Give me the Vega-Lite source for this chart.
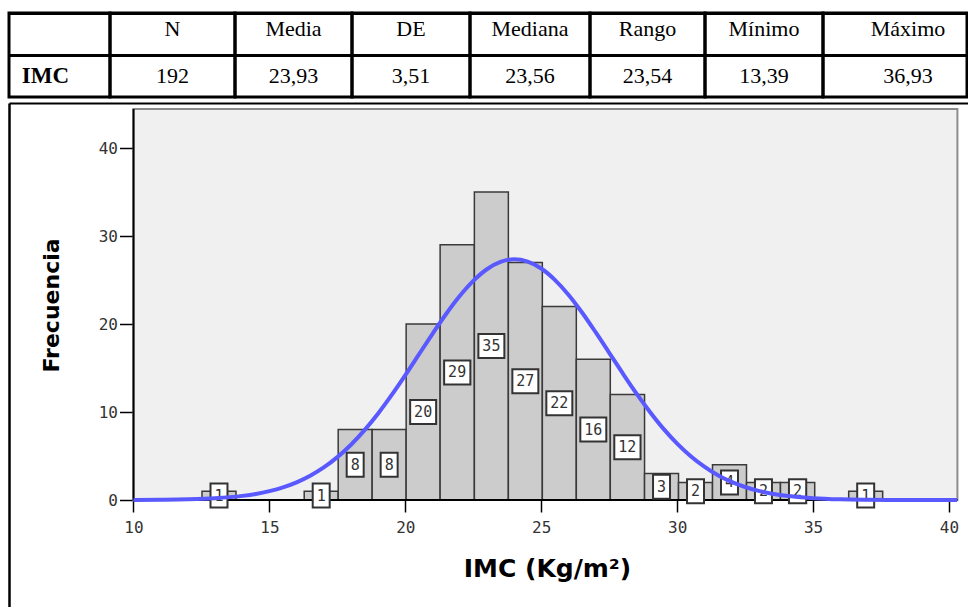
{
  "$schema": "https://vega.github.io/schema/vega-lite/v6.json",
  "background": "white",
  "padding": {"left": 7, "top": 11, "right": 0, "bottom": 0},
  "spacing": 4,
  "datasets": {
    "stats": [
      {"header": "", "value": "IMC"},
      {"header": "N", "value": "192"},
      {"header": "Media", "value": "23,93"},
      {"header": "DE", "value": "3,51"},
      {"header": "Mediana", "value": "23,56"},
      {"header": "Rango", "value": "23,54"},
      {"header": "Mínimo", "value": "13,39"},
      {"header": "Máximo", "value": "36,93"}
    ],
    "bins": [
      {"x0": 12.52, "x1": 13.77, "count": 1},
      {"x0": 16.28, "x1": 17.53, "count": 1},
      {"x0": 17.53, "x1": 18.78, "count": 8},
      {"x0": 18.78, "x1": 20.03, "count": 8},
      {"x0": 20.03, "x1": 21.28, "count": 20},
      {"x0": 21.28, "x1": 22.54, "count": 29},
      {"x0": 22.54, "x1": 23.79, "count": 35},
      {"x0": 23.79, "x1": 25.04, "count": 27},
      {"x0": 25.04, "x1": 26.29, "count": 22},
      {"x0": 26.29, "x1": 27.54, "count": 16},
      {"x0": 27.54, "x1": 28.80, "count": 12},
      {"x0": 28.80, "x1": 30.05, "count": 3},
      {"x0": 30.05, "x1": 31.30, "count": 2},
      {"x0": 31.30, "x1": 32.55, "count": 4},
      {"x0": 32.55, "x1": 33.80, "count": 2},
      {"x0": 33.80, "x1": 35.06, "count": 2},
      {"x0": 36.31, "x1": 37.56, "count": 1}
    ],
    "curve": [
      {"x": 10, "y": 0.01}, {"x": 11, "y": 0.03}, {"x": 12, "y": 0.08}, {"x": 13, "y": 0.2},
      {"x": 14, "y": 0.47}, {"x": 14.5, "y": 0.69}, {"x": 15, "y": 1.01}, {"x": 15.5, "y": 1.44},
      {"x": 16, "y": 2.01}, {"x": 16.5, "y": 2.76}, {"x": 17, "y": 3.7}, {"x": 17.5, "y": 4.87},
      {"x": 18, "y": 6.28}, {"x": 18.5, "y": 7.94}, {"x": 19, "y": 9.83}, {"x": 19.5, "y": 11.94},
      {"x": 20, "y": 14.19}, {"x": 20.5, "y": 16.54}, {"x": 21, "y": 18.89}, {"x": 21.5, "y": 21.14},
      {"x": 22, "y": 23.18}, {"x": 22.5, "y": 24.9}, {"x": 23, "y": 26.22}, {"x": 23.5, "y": 27.05},
      {"x": 24, "y": 27.35}, {"x": 24.5, "y": 27.09}, {"x": 25, "y": 26.31}, {"x": 25.5, "y": 25.02},
      {"x": 26, "y": 23.33}, {"x": 26.5, "y": 21.31}, {"x": 27, "y": 19.07}, {"x": 27.5, "y": 16.73},
      {"x": 28, "y": 14.38}, {"x": 28.5, "y": 12.11}, {"x": 29, "y": 10.0}, {"x": 29.5, "y": 8.08},
      {"x": 30, "y": 6.41}, {"x": 30.5, "y": 4.98}, {"x": 31, "y": 3.79}, {"x": 31.5, "y": 2.82},
      {"x": 32, "y": 2.06}, {"x": 32.5, "y": 1.48}, {"x": 33, "y": 1.04}, {"x": 33.5, "y": 0.71},
      {"x": 34, "y": 0.48}, {"x": 35, "y": 0.21}, {"x": 36, "y": 0.08}, {"x": 37, "y": 0.03},
      {"x": 38, "y": 0.01}, {"x": 39, "y": 0}, {"x": 40.3, "y": 0}
    ]
  },
  "vconcat": [
    {
      "spacing": 0,
      "bounds": "flush",
      "resolve": {"scale": {"y": "independent"}, "axis": {"y": "independent"}},
      "hconcat": [
        {
          "width": 101, "height": 84,
          "view": {"stroke": "black", "strokeWidth": 3},
          "data": {"name": "stats"},
          "transform": [{"filter": "datum.value === 'IMC'"}],
          "mark": {"type": "text", "font": "Liberation Serif", "fontSize": 23, "fontWeight": "bold", "color": "black", "dx": -14},
          "encoding": {
            "y": {"datum": "v", "type": "nominal", "scale": {"type": "band", "domain": ["h", "v"], "paddingInner": 0, "paddingOuter": 0},
                  "axis": {"title": null, "labels": false, "ticks": false, "domain": false, "grid": true, "gridColor": "black", "gridWidth": 3, "bandPosition": 0}},
            "text": {"field": "value"}
          }
        },
        {
          "width": 125, "height": 84,
          "view": {"stroke": "black", "strokeWidth": 3},
          "data": {"name": "stats"},
          "transform": [{"filter": "datum.header === 'N'"}],
          "layer": [
            {"mark": {"type": "text", "font": "Liberation Serif", "fontSize": 22, "color": "black", "dy": -5},
             "encoding": {"y": {"datum": "h", "type": "nominal", "scale": {"type": "band", "domain": ["h", "v"], "paddingInner": 0, "paddingOuter": 0},
                  "axis": {"title": null, "labels": false, "ticks": false, "domain": false, "grid": true, "gridColor": "black", "gridWidth": 3, "bandPosition": 0}},
                  "text": {"field": "header"}}},
            {"mark": {"type": "text", "font": "Liberation Serif", "fontSize": 22, "color": "black"},
             "encoding": {"y": {"datum": "v", "type": "nominal"}, "text": {"field": "value"}}}
          ]
        },
        {
          "width": 117, "height": 84,
          "view": {"stroke": "black", "strokeWidth": 3},
          "data": {"name": "stats"},
          "transform": [{"filter": "datum.header === 'Media'"}],
          "layer": [
            {"mark": {"type": "text", "font": "Liberation Serif", "fontSize": 22, "color": "black", "dy": -5},
             "encoding": {"y": {"datum": "h", "type": "nominal", "scale": {"type": "band", "domain": ["h", "v"], "paddingInner": 0, "paddingOuter": 0},
                  "axis": {"title": null, "labels": false, "ticks": false, "domain": false, "grid": true, "gridColor": "black", "gridWidth": 3, "bandPosition": 0}},
                  "text": {"field": "header"}}},
            {"mark": {"type": "text", "font": "Liberation Serif", "fontSize": 22, "color": "black"},
             "encoding": {"y": {"datum": "v", "type": "nominal"}, "text": {"field": "value"}}}
          ]
        },
        {
          "width": 118, "height": 84,
          "view": {"stroke": "black", "strokeWidth": 3},
          "data": {"name": "stats"},
          "transform": [{"filter": "datum.header === 'DE'"}],
          "layer": [
            {"mark": {"type": "text", "font": "Liberation Serif", "fontSize": 22, "color": "black", "dy": -5},
             "encoding": {"y": {"datum": "h", "type": "nominal", "scale": {"type": "band", "domain": ["h", "v"], "paddingInner": 0, "paddingOuter": 0},
                  "axis": {"title": null, "labels": false, "ticks": false, "domain": false, "grid": true, "gridColor": "black", "gridWidth": 3, "bandPosition": 0}},
                  "text": {"field": "header"}}},
            {"mark": {"type": "text", "font": "Liberation Serif", "fontSize": 22, "color": "black"},
             "encoding": {"y": {"datum": "v", "type": "nominal"}, "text": {"field": "value"}}}
          ]
        },
        {
          "width": 120, "height": 84,
          "view": {"stroke": "black", "strokeWidth": 3},
          "data": {"name": "stats"},
          "transform": [{"filter": "datum.header === 'Mediana'"}],
          "layer": [
            {"mark": {"type": "text", "font": "Liberation Serif", "fontSize": 22, "color": "black", "dy": -5},
             "encoding": {"y": {"datum": "h", "type": "nominal", "scale": {"type": "band", "domain": ["h", "v"], "paddingInner": 0, "paddingOuter": 0},
                  "axis": {"title": null, "labels": false, "ticks": false, "domain": false, "grid": true, "gridColor": "black", "gridWidth": 3, "bandPosition": 0}},
                  "text": {"field": "header"}}},
            {"mark": {"type": "text", "font": "Liberation Serif", "fontSize": 22, "color": "black"},
             "encoding": {"y": {"datum": "v", "type": "nominal"}, "text": {"field": "value"}}}
          ]
        },
        {
          "width": 115, "height": 84,
          "view": {"stroke": "black", "strokeWidth": 3},
          "data": {"name": "stats"},
          "transform": [{"filter": "datum.header === 'Rango'"}],
          "layer": [
            {"mark": {"type": "text", "font": "Liberation Serif", "fontSize": 22, "color": "black", "dy": -5},
             "encoding": {"y": {"datum": "h", "type": "nominal", "scale": {"type": "band", "domain": ["h", "v"], "paddingInner": 0, "paddingOuter": 0},
                  "axis": {"title": null, "labels": false, "ticks": false, "domain": false, "grid": true, "gridColor": "black", "gridWidth": 3, "bandPosition": 0}},
                  "text": {"field": "header"}}},
            {"mark": {"type": "text", "font": "Liberation Serif", "fontSize": 22, "color": "black"},
             "encoding": {"y": {"datum": "v", "type": "nominal"}, "text": {"field": "value"}}}
          ]
        },
        {
          "width": 118, "height": 84,
          "view": {"stroke": "black", "strokeWidth": 3},
          "data": {"name": "stats"},
          "transform": [{"filter": "datum.header === 'Mínimo'"}],
          "layer": [
            {"mark": {"type": "text", "font": "Liberation Serif", "fontSize": 22, "color": "black", "dy": -5},
             "encoding": {"y": {"datum": "h", "type": "nominal", "scale": {"type": "band", "domain": ["h", "v"], "paddingInner": 0, "paddingOuter": 0},
                  "axis": {"title": null, "labels": false, "ticks": false, "domain": false, "grid": true, "gridColor": "black", "gridWidth": 3, "bandPosition": 0}},
                  "text": {"field": "header"}}},
            {"mark": {"type": "text", "font": "Liberation Serif", "fontSize": 22, "color": "black"},
             "encoding": {"y": {"datum": "v", "type": "nominal"}, "text": {"field": "value"}}}
          ]
        },
        {
          "width": 144, "height": 84,
          "view": {"stroke": "black", "strokeWidth": 3},
          "data": {"name": "stats"},
          "transform": [{"filter": "datum.header === 'Máximo'"}],
          "layer": [
            {"mark": {"type": "text", "font": "Liberation Serif", "fontSize": 22, "color": "black", "dy": -5, "dx": 13},
             "encoding": {"y": {"datum": "h", "type": "nominal", "scale": {"type": "band", "domain": ["h", "v"], "paddingInner": 0, "paddingOuter": 0},
                  "axis": {"title": null, "labels": false, "ticks": false, "domain": false, "grid": true, "gridColor": "black", "gridWidth": 3, "bandPosition": 0}},
                  "text": {"field": "header"}}},
            {"mark": {"type": "text", "font": "Liberation Serif", "fontSize": 22, "color": "black", "dx": 13},
             "encoding": {"y": {"datum": "v", "type": "nominal"}, "text": {"field": "value"}}}
          ]
        }
      ]
    },
    {
      "width": 959,
      "height": 504,
      "view": {"stroke": null, "fill": "white"},
      "resolve": {"scale": {"x": "independent", "y": "independent"}},
      "layer": [
        {
          "layer": [
            {
              "data": {"values": [{}]},
              "mark": {"type": "rect", "fill": "#f0f0f0", "stroke": "#8c8c8c", "strokeWidth": 2},
              "encoding": {
                "x": {"datum": 10, "type": "quantitative", "scale": {"domain": [5.42, 40.699], "nice": false, "zero": false},
                  "axis": {"orient": "bottom", "offset": -107, "values": [10, 15, 20, 25, 30, 35, 40], "domain": false, "grid": false,
                    "ticks": true, "tickSize": 12, "tickColor": "black", "tickWidth": 1.5,
                    "labelFont": "DejaVu Sans Mono", "labelFontSize": 16, "labelColor": "#333333", "labelPadding": 7,
                    "labelFlush": false, "labelOverlap": false,
                    "title": "IMC (Kg/m²)", "titleFont": "DejaVu Sans", "titleFontSize": 25, "titleFontWeight": "bold",
                    "titleColor": "black", "titleX": 538, "titlePadding": 21, "minExtent": 35, "maxExtent": 35}},
                "x2": {"datum": 40.31},
                "y": {"datum": 0, "type": "quantitative", "scale": {"domain": [-12.159, 45.114], "nice": false, "zero": false},
                  "axis": {"orient": "left", "offset": -124.5, "values": [0, 10, 20, 30, 40], "domain": false, "grid": false,
                    "ticks": true, "tickSize": 14, "tickColor": "black", "tickWidth": 1.5,
                    "labelFont": "DejaVu Sans Mono", "labelFontSize": 16, "labelColor": "#333333", "labelPadding": 2,
                    "labelFlush": false, "labelOverlap": false,
                    "title": "Frecuencia", "titleFont": "DejaVu Sans", "titleFontSize": 22, "titleFontWeight": "bold",
                    "titleColor": "black", "titleY": 202, "titlePadding": 35, "minExtent": 35, "maxExtent": 35}},
                "y2": {"datum": 44.43}
              }
            },
            {
              "data": {"name": "bins"},
              "mark": {"type": "rect", "fill": "#cccccc", "stroke": "#3a3a3a", "strokeWidth": 1.5},
              "encoding": {
                "x": {"field": "x0", "type": "quantitative", "scale": {"domain": [5.42, 40.699], "nice": false, "zero": false}},
                "x2": {"field": "x1"},
                "y": {"field": "count", "type": "quantitative", "scale": {"domain": [-12.159, 45.114], "nice": false, "zero": false}},
                "y2": {"datum": 0}
              }
            },
            {
              "data": {"values": [{}]},
              "mark": {"type": "rule", "color": "black", "strokeWidth": 2},
              "encoding": {
                "x": {"datum": 10, "type": "quantitative", "scale": {"domain": [5.42, 40.699], "nice": false, "zero": false}},
                "y": {"datum": 0, "type": "quantitative", "scale": {"domain": [-12.159, 45.114], "nice": false, "zero": false}},
                "y2": {"datum": 44.43}
              }
            },
            {
              "data": {"values": [{}]},
              "mark": {"type": "rule", "color": "black", "strokeWidth": 2},
              "encoding": {
                "x": {"datum": 10, "type": "quantitative", "scale": {"domain": [5.42, 40.699], "nice": false, "zero": false}},
                "x2": {"datum": 40.31},
                "y": {"datum": 0, "type": "quantitative", "scale": {"domain": [-12.159, 45.114], "nice": false, "zero": false}}
              }
            }
          ]
        },
        {
          "data": {"name": "bins"},
          "layer": [
            {
              "transform": [{"filter": "datum.count < 10"}],
              "mark": {"type": "rect", "fill": "white", "stroke": "#333333", "strokeWidth": 2, "xOffset": 8.5, "x2Offset": -8.5, "yOffset": -12, "y2Offset": 12},
              "encoding": {
                "x": {"field": "x0", "type": "quantitative", "scale": {"domain": [5.42, 40.699], "nice": false, "zero": false}, "axis": null},
                "x2": {"field": "x1"},
                "y": {"field": "count", "type": "quantitative", "scale": {"domain": [-24.318, 90.228], "nice": false, "zero": false}, "axis": null},
                "y2": {"field": "count"}
              }
            },
            {
              "transform": [{"filter": "datum.count >= 10"}],
              "mark": {"type": "rect", "fill": "white", "stroke": "#333333", "strokeWidth": 2, "xOffset": 4, "x2Offset": -4, "yOffset": -12, "y2Offset": 12},
              "encoding": {
                "x": {"field": "x0", "type": "quantitative", "scale": {"domain": [5.42, 40.699], "nice": false, "zero": false}, "axis": null},
                "x2": {"field": "x1"},
                "y": {"field": "count", "type": "quantitative", "scale": {"domain": [-24.318, 90.228], "nice": false, "zero": false}, "axis": null},
                "y2": {"field": "count"}
              }
            },
            {
              "mark": {"type": "text", "font": "DejaVu Sans Mono", "fontSize": 15, "color": "#333333", "dx": 17, "align": "center", "baseline": "middle"},
              "encoding": {
                "x": {"field": "x0", "type": "quantitative", "scale": {"domain": [5.42, 40.699], "nice": false, "zero": false}, "axis": null},
                "y": {"field": "count", "type": "quantitative", "scale": {"domain": [-24.318, 90.228], "nice": false, "zero": false}, "axis": null},
                "text": {"field": "count", "type": "quantitative"}
              }
            }
          ]
        },
        {
          "data": {"name": "curve"},
          "mark": {"type": "line", "color": "#5959ff", "strokeWidth": 4, "interpolate": "monotone"},
          "encoding": {
            "x": {"field": "x", "type": "quantitative", "scale": {"domain": [5.42, 40.699], "nice": false, "zero": false},
              "axis": {"orient": "top", "offset": 0, "domain": true, "domainColor": "black", "domainWidth": 2, "ticks": false, "labels": false, "grid": false, "title": null}},
            "y": {"field": "y", "type": "quantitative", "scale": {"domain": [-12.159, 45.114], "nice": false, "zero": false},
              "axis": {"orient": "left", "offset": 0, "domain": true, "domainColor": "black", "domainWidth": 2.5, "ticks": false, "labels": false, "grid": false, "title": null}}
          }
        }
      ]
    }
  ]
}
